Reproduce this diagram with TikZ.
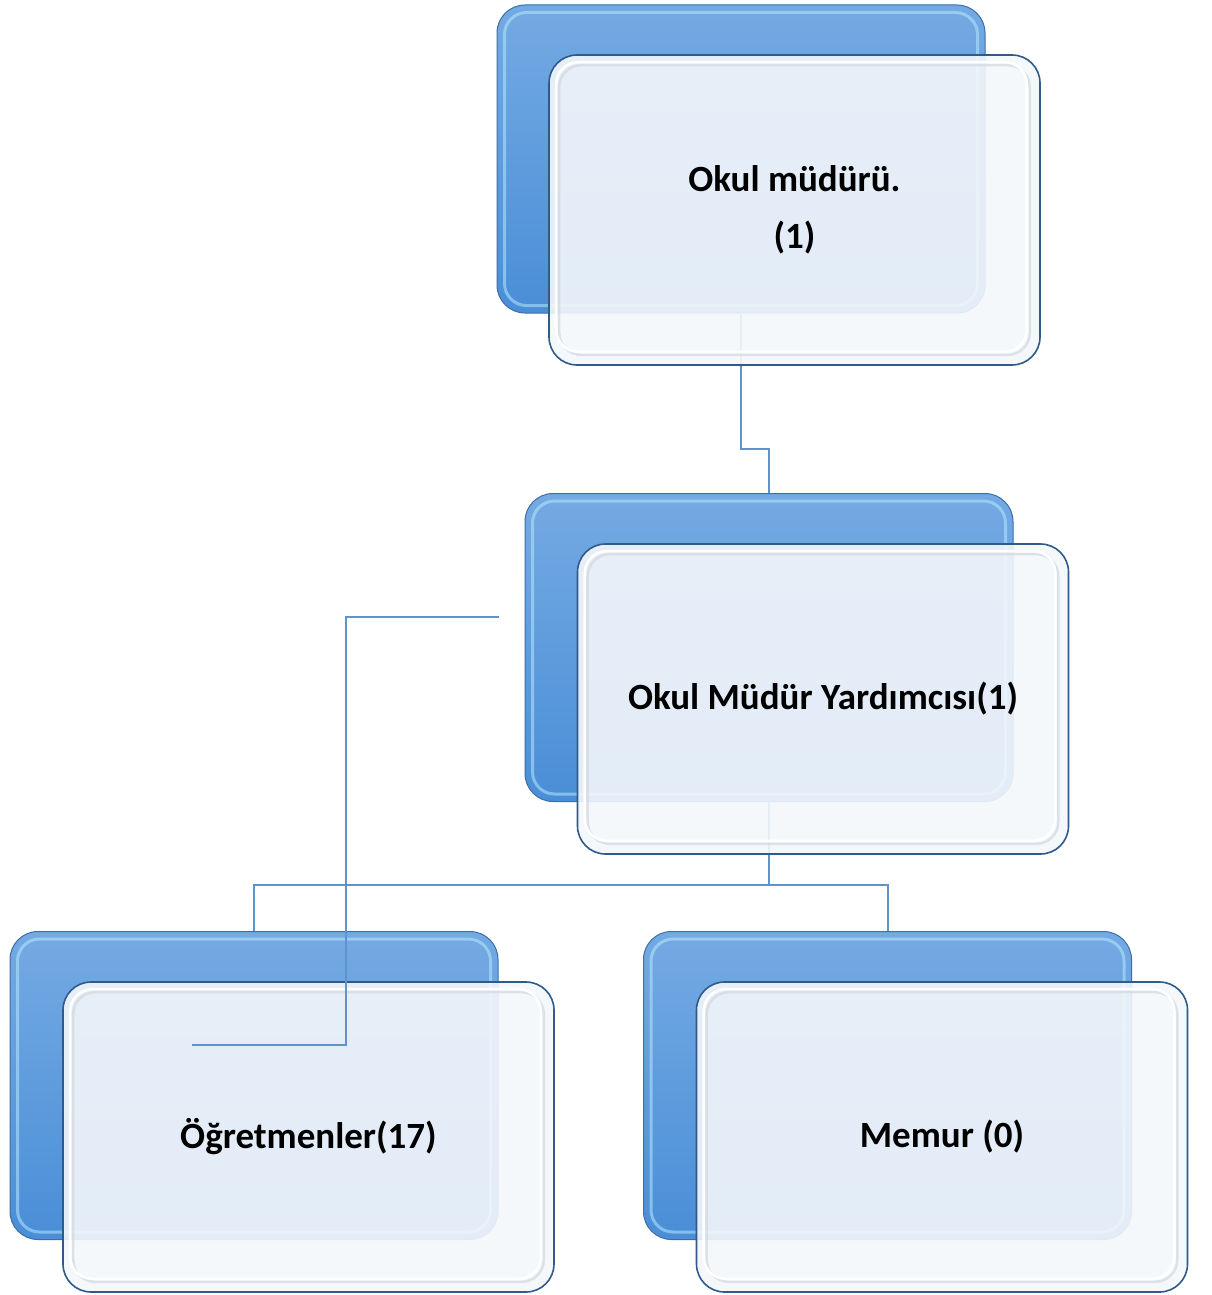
\documentclass[tikz,border=0pt]{standalone}
\usepackage{fontspec}
\setmainfont{Carlito}
\usetikzlibrary{calc}
\definecolor{backtop}{HTML}{74AAE3}
\definecolor{backbot}{HTML}{4A8ED7}
\definecolor{backedge}{HTML}{3C6FA8}
\definecolor{backhl}{HTML}{B5E8FF}
\definecolor{frontfill}{HTML}{F4F7FB}
\definecolor{frontedge}{HTML}{2F5A8A}
\definecolor{rimgrey}{HTML}{D4D8DE}
\definecolor{linkcol}{HTML}{5E93CC}
\begin{document}
\begin{tikzpicture}[x=1pt,y=1pt,
  backbox/.style={rounded corners=28pt, minimum width=488pt, minimum height=308pt,
    inner sep=0pt, draw=backedge, line width=1pt, top color=backtop, bottom color=backbot},
  frontbox/.style={rounded corners=28pt, minimum width=491pt, minimum height=310pt,
    inner sep=0pt, draw=frontedge, line width=1.6pt, fill=frontfill, fill opacity=0.9,
    text opacity=1, align=center, font=\fontsize{37}{57}\selectfont\bfseries},
  backrim/.style={rounded corners=22pt, draw=backhl, line width=3pt, draw opacity=0.55},
  frontrim/.style={rounded corners=22pt, draw=rimgrey, line width=2.5pt, draw opacity=0.7},
  frontrimw/.style={rounded corners=22pt, draw=white, line width=2.5pt},
  link/.style={draw=linkcol, line width=2pt},
  thinlink/.style={draw=linkcol, line width=1.3pt}
]
\useasboundingbox (0,0) rectangle (1211,-1295);

% back boxes
\node[backbox] (b1) at (741,-159) {};
\node[backbox] (b2) at (769,-647.5) {};
\node[backbox] (b3) at (254,-1085.5) {};
\node[backbox] (b4) at (887.5,-1085.5) {};
\foreach \b in {b1,b2,b3,b4}{
  \draw[backrim] ([shift={(8pt,-8pt)}]\b.north west) rectangle ([shift={(-8pt,8pt)}]\b.south east);
}

% connectors (under front boxes)
\coordinate (j1) at (741,-449);
\coordinate (j2) at (769,-885);
\draw[link] (b1.south) -- (j1) -| (b2.north);
\draw[link] (b2.south) -- (j2);
\draw[link] (b3.north) |- (j2) -| (b4.north);

% front boxes
\node[frontbox] (f1) at (794.5,-210) {Okul müdürü.\\(1)};
\node[frontbox] (f2) at (823,-699) {Okul Müdür Yardımcısı(1)};
\node[frontbox] (f3) at (308.5,-1137) {Öğretmenler(17)};
\node[frontbox] (f4) at (942,-1137) {Memur (0)};
\foreach \f in {f1,f2,f3,f4}{
  \draw[frontrim] ([shift={(11pt,-11pt)}]\f.north west) rectangle ([shift={(-11pt,11pt)}]\f.south east);
  \draw[frontrimw] ([shift={(8pt,-8pt)}]\f.north west) rectangle ([shift={(-14pt,14pt)}]\f.south east);
}

% stray connector line
\coordinate (s1) at (499,-617);
\coordinate (s2) at (346,-617);
\coordinate (s3) at (346,-1045);
\coordinate (s4) at (192,-1045);
\draw[thinlink] (s1) -- (s2) -- (s3) -- (s4);
\end{tikzpicture}
\end{document}
